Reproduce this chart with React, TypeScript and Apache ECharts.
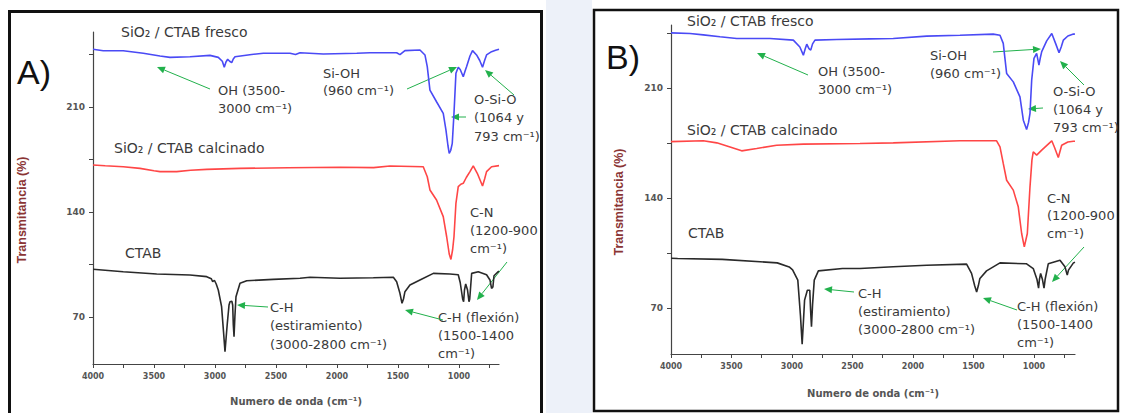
import React, { useEffect, useRef } from "react";
import * as echarts from "echarts";

// ---- FTIR spectra, [wavenumber (cm-1), transmittance (%) with offset] ----
const frescoA: [number, number][] = [
  [4000, 248.5], [3916, 247.5], [3752, 247.5], [3588, 245.8], [3451, 244], [3369, 243.1],
  [3205, 243.5], [3041, 244.4], [2973, 243.1], [2940, 240.5], [2924, 236.5], [2910, 240],
  [2896, 241.8], [2880, 240.5], [2863, 239.6], [2850, 242], [2836, 243.5], [2700, 245],
  [2604, 245.8], [2385, 245.8], [2340, 245], [2303, 246.2], [2112, 245.3], [1838, 245.8],
  [1730, 246.2], [1511, 246.2], [1484, 244.9], [1443, 247.6], [1320, 248], [1279, 244.7],
  [1260, 236.9], [1238, 221.3], [1184, 213.5], [1129, 205.8], [1107, 194.7], [1090, 184],
  [1080, 179.1], [1068, 181], [1055, 185.8], [1041, 205.8], [1025, 232.5], [1006, 236.5],
  [990, 235], [965, 230.2], [950, 234], [938, 236.9], [910, 244], [889, 247.6], [856, 244.7],
  [830, 241], [807, 236.5], [790, 241], [774, 244.7], [733, 246.9], [700, 247.8], [672, 248.5],
];
const calcinadoA: [number, number][] = [
  [4000, 171.3], [3900, 170.8], [3752, 170.2], [3615, 169.1], [3500, 167.5], [3451, 166.9],
  [3314, 166.9], [3200, 167.8], [3068, 168.4], [2795, 169.1], [2400, 169.5], [1975, 169.8],
  [1700, 169.6], [1566, 170.7], [1293, 170.2], [1260, 163.5], [1238, 154.7], [1184, 148],
  [1129, 136.9], [1101, 123.5], [1080, 112], [1066, 108.4], [1052, 115], [1041, 123.5],
  [1025, 145.8], [1006, 156.9], [985, 158.5], [965, 159.1], [940, 163], [910, 166.9],
  [883, 170.7], [850, 165.8], [807, 157.3], [790, 162], [774, 166.9], [733, 170.2], [672, 170.9],
];
const ctabA: [number, number][] = [
  [4000, 101.8], [3752, 100.2], [3478, 98.7], [3205, 98], [3068, 96.9], [3030, 95.5],
  [3019, 93.5], [3005, 94.5], [2990, 92], [2973, 88], [2946, 76.9], [2930, 60], [2918, 46.9],
  [2905, 60], [2899, 65.8], [2885, 78], [2877, 80.2], [2862, 80.5], [2855, 78], [2850, 65],
  [2844, 56.9], [2837, 70], [2828, 83.5], [2795, 92.5], [2740, 94.2], [2522, 95.1],
  [2303, 95.8], [2221, 96.5], [1975, 95.8], [1702, 96.2], [1538, 96.5], [1511, 93.5],
  [1484, 85.8], [1467, 79.1], [1455, 82], [1443, 86.9], [1402, 91.3], [1320, 94.7],
  [1210, 99.1], [1074, 98.7], [1006, 98.2], [990, 93], [970, 82], [962, 80.2], [955, 88],
  [945, 92], [930, 88], [918, 80.2], [912, 82], [900, 95], [896, 99.1], [842, 100.2],
  [774, 98.2], [746, 94.7], [733, 89.1], [722, 90], [713, 97.5], [678, 100.2], [672, 100.5],
];

const frescoB: [number, number][] = [
  [4000, 245], [3843, 244.6], [3733, 243.7], [3595, 242.5], [3457, 241.4], [3182, 241.4],
  [2989, 240.4], [2935, 236], [2906, 230.8], [2890, 235], [2878, 237.8], [2860, 235],
  [2845, 234], [2830, 238], [2810, 240.4], [2631, 240.8], [2355, 241.2], [2163, 241.4],
  [1887, 242.9], [1612, 243.5], [1337, 244.2], [1281, 243.5], [1254, 238.3], [1226, 219.2],
  [1171, 213.8], [1116, 204.3], [1088, 189.4], [1061, 183.5], [1045, 188], [1033, 193.7],
  [1019, 214.9], [1000, 228.8], [978, 232], [959, 224.5], [948, 229], [936, 233.1],
  [895, 239.9], [853, 244.6], [820, 238], [793, 232.3], [775, 236], [757, 240.4],
  [720, 243], [674, 244.2], [661, 244.3],
];
const calcinadoB: [number, number][] = [
  [4000, 175.8], [3733, 176.3], [3622, 175], [3512, 172.4], [3416, 169.9], [3292, 171.4],
  [3127, 173.5], [2906, 174.2], [2438, 174.6], [2163, 175], [1612, 176.3], [1309, 176.3],
  [1281, 172.4], [1254, 161.9], [1226, 151.2], [1171, 144.9], [1130, 134.3], [1102, 117.3],
  [1080, 108.8], [1055, 117.3], [1033, 147], [1017, 164], [1006, 169.3], [978, 167.2],
  [936, 170.4], [853, 176.3], [830, 172], [799, 165.7], [771, 173.5], [720, 175.5],
  [674, 176], [661, 176],
];
const ctabB: [number, number][] = [
  [4000, 101.5], [3945, 101.4], [3576, 100.8], [3122, 98.6], [3023, 96], [2995, 94.2],
  [2952, 87.6], [2930, 65], [2916, 46.9], [2905, 62], [2896, 74.9], [2873, 81.2],
  [2853, 81.2], [2846, 68], [2839, 57.9], [2830, 72], [2816, 87.6], [2782, 93.5],
  [2583, 95], [2438, 95], [2163, 96.1], [1887, 97.1], [1557, 97.8], [1516, 91.9],
  [1490, 84], [1474, 80.1], [1460, 84], [1447, 88.7], [1392, 93.5], [1281, 98.6],
  [1061, 98], [1006, 95], [975, 88], [962, 82.5], [955, 88], [945, 91.9], [930, 88],
  [917, 82.5], [908, 88], [882, 98], [785, 100.3], [744, 96.1], [725, 90.8], [715, 94],
  [674, 98.6], [661, 99],
];

// ---- axis ticks ----
const xTicks = [4000, 3750, 3500, 3250, 3000, 2750, 2500, 2250, 2000, 1750, 1500, 1250, 1000, 750];
const xLabels = [4000, 3500, 3000, 2500, 2000, 1500, 1000];
const yTicks = [70, 105, 140, 175, 210, 245];
const yLabels = [70, 140, 210];

const FONT = "DejaVu Sans";
const TEXT = "#3a3a3a";
const GREEN = "#22b14c";

function xAxisCfg(gridIndex: number, min: number, nameGap: number) {
  return {
    type: "value",
    gridIndex,
    inverse: true,
    min,
    max: 4000,
    name: "Numero de onda (cm⁻¹)",
    nameLocation: "middle",
    nameGap,
    nameTextStyle: { color: "#555", fontSize: 10, fontWeight: "bold", fontFamily: FONT },
    axisLine: { show: true, onZero: false, lineStyle: { color: "#444", width: 1.2 } },
    axisTick: { show: true, length: 4, customValues: xTicks, lineStyle: { color: "#444" } },
    axisLabel: {
      customValues: xLabels,
      formatter: (v: number) => String(v),
      fontSize: 8,
      fontWeight: "bold",
      color: "#555",
      margin: 8,
      fontFamily: FONT,
    },
    splitLine: { show: false },
  };
}

function yAxisCfg(gridIndex: number, min: number, max: number) {
  return {
    type: "value",
    gridIndex,
    min,
    max,
    axisLine: { show: true, onZero: false, lineStyle: { color: "#444", width: 1.2 } },
    axisTick: { show: true, length: 4, customValues: yTicks, lineStyle: { color: "#444" } },
    axisLabel: {
      customValues: yLabels,
      formatter: (v: number) => String(v),
      fontSize: 9,
      fontWeight: "bold",
      color: "#555",
      margin: 8,
      fontFamily: FONT,
    },
    splitLine: { show: false },
  };
}

function line(idx: number, data: [number, number][], color: string) {
  return {
    type: "line",
    xAxisIndex: idx,
    yAxisIndex: idx,
    data,
    symbol: "none",
    showSymbol: false,
    lineStyle: { color, width: 1.6 },
    silent: true,
  };
}

function label(x: number, y: number, text: string, fontSize = 13, lineHeight = 18) {
  return {
    type: "text",
    x,
    y,
    silent: true,
    style: {
      text,
      fill: TEXT,
      fontSize,
      fontFamily: FONT,
      lineHeight,
      textAlign: "left",
      textVerticalAlign: "top",
      align: "left",
      verticalAlign: "top",
    },
  };
}

function arrow(x1: number, y1: number, x2: number, y2: number) {
  const dx = x2 - x1;
  const dy = y2 - y1;
  const len = Math.sqrt(dx * dx + dy * dy);
  const ux = dx / len;
  const uy = dy / len;
  const bx = x2 - ux * 8;
  const by = y2 - uy * 8;
  const nx = -uy * 3.5;
  const ny = ux * 3.5;
  return {
    type: "group",
    silent: true,
    children: [
      {
        type: "line",
        shape: { x1, y1, x2: bx, y2: by },
        style: { stroke: GREEN, lineWidth: 1 },
      },
      {
        type: "polygon",
        shape: { points: [[x2, y2], [bx + nx, by + ny], [bx - nx, by - ny]] },
        style: { fill: GREEN },
      },
    ],
  };
}

function rotatedName(x: number, y: number) {
  return {
    type: "text",
    x,
    y,
    rotation: Math.PI / 2,
    silent: true,
    style: {
      text: "Transmitancia (%)",
      fill: "#8a3434",
      fontSize: 12.5,
      fontWeight: "bold",
      fontFamily: "Liberation Sans",
      textAlign: "center",
      textVerticalAlign: "middle",
      align: "center",
      verticalAlign: "middle",
    },
  };
}

export default function App() {
  const ref = useRef<HTMLDivElement>(null);

  useEffect(() => {
    if (!ref.current) return;
    const chart = echarts.init(ref.current, undefined, { renderer: "svg" });

    const graphic: any[] = [
      // gap between the two panels
      { type: "rect", shape: { x: 546, y: 0, width: 46, height: 413 }, style: { fill: "#edf1f9" }, silent: true, z: -10 },
      // panel frames
      { type: "rect", shape: { x: 9.5, y: 11.5, width: 532, height: 410 }, style: { fill: "none", stroke: "#111", lineWidth: 3 }, silent: true },
      { type: "rect", shape: { x: 594, y: 10, width: 524, height: 401 }, style: { fill: "none", stroke: "#111", lineWidth: 2.5 }, silent: true },

      // panel A
      { type: "text", x: 17, y: 72, silent: true, style: { text: "A)", fill: "#111", fontSize: 34, fontFamily: "Liberation Sans", textVerticalAlign: "middle", verticalAlign: "middle" } },
      rotatedName(22, 210),
      label(121, 23, "SiO₂ / CTAB fresco", 14),
      label(114, 139, "SiO₂ / CTAB calcinado", 14),
      label(125, 244, "CTAB", 14),
      label(218, 81, "OH (3500-\n3000 cm⁻¹)"),
      label(323, 65, "Si-OH\n(960 cm⁻¹)", 13, 17),
      label(474, 90, "O-Si-O\n(1064 y\n793 cm⁻¹)", 13, 18.5),
      label(470, 203, "C-N\n(1200-900\ncm⁻¹)"),
      label(270, 298, "C-H\n(estiramiento)\n(3000-2800 cm⁻¹)", 13, 18.5),
      label(438, 308, "C-H (flexión)\n(1500-1400\ncm⁻¹)"),
      arrow(210, 89, 157, 67),
      arrow(407, 89, 457, 67),
      arrow(466, 117, 451, 117),
      arrow(514, 95, 485, 70),
      arrow(507, 262, 477, 300),
      arrow(268, 307, 237, 305),
      arrow(443, 320, 405, 310),

      // panel B
      { type: "text", x: 606, y: 57, silent: true, style: { text: "B)", fill: "#111", fontSize: 34, fontFamily: "Liberation Sans", textVerticalAlign: "middle", verticalAlign: "middle" } },
      rotatedName(619, 202),
      label(687, 12, "SiO₂ / CTAB fresco", 14),
      label(687, 121, "SiO₂ / CTAB calcinado", 14),
      label(688, 224, "CTAB", 14),
      label(818, 62, "OH (3500-\n3000 cm⁻¹)"),
      label(930, 47, "Si-OH\n(960 cm⁻¹)", 13, 17.5),
      label(1053, 82, "O-Si-O\n(1064 y\n793 cm⁻¹)"),
      label(1047, 189.5, "C-N\n(1200-900\ncm⁻¹)", 13, 17.5),
      label(858, 284.5, "C-H\n(estiramiento)\n(3000-2800 cm⁻¹)"),
      label(1017, 297.5, "C-H (flexión)\n(1500-1400\ncm⁻¹)"),
      arrow(808, 75, 757, 53),
      arrow(993, 52, 1041, 49),
      arrow(1043, 108, 1028, 109),
      arrow(1084, 85, 1060, 61),
      arrow(1084, 247, 1052, 282),
      arrow(854, 292, 824, 289),
      arrow(1017, 310, 983, 298),
    ];

    chart.setOption({
      animation: false,
      backgroundColor: "#ffffff",
      textStyle: { fontFamily: FONT },
      grid: [
        { left: 93, top: 32, width: 406, height: 332 },
        { left: 671, top: 25, width: 404, height: 329 },
      ],
      xAxis: [xAxisCfg(0, 672, 32), xAxisCfg(1, 661, 34)],
      yAxis: [yAxisCfg(0, 38.67, 260), yAxisCfg(1, 40.6, 250)],
      series: [
        line(0, frescoA, "#4a4af5"),
        line(0, calcinadoA, "#ff4646"),
        line(0, ctabA, "#2a2a2a"),
        line(1, frescoB, "#4a4af5"),
        line(1, calcinadoB, "#ff4646"),
        line(1, ctabB, "#2a2a2a"),
      ],
      graphic,
    });

    return () => chart.dispose();
  }, []);

  return (
    <div
      ref={ref}
      style={{ position: "fixed", left: 0, top: 0, width: 1123, height: 413, background: "#fff" }}
    />
  );
}
